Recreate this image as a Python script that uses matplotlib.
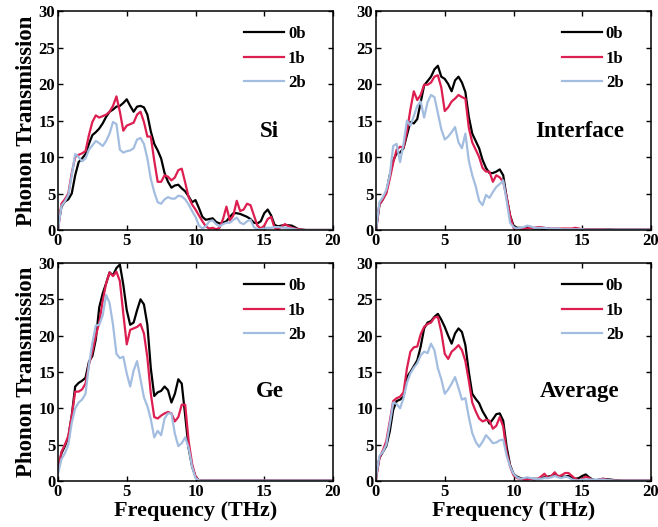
import numpy as np
import matplotlib
matplotlib.use("Agg")
import matplotlib.pyplot as plt

plt.rcParams['font.family'] = ['Liberation Serif', 'DejaVu Serif']
plt.rcParams['font.weight'] = 'bold'

# frequency grid (THz): 0..16 step 0.25, then 16.5..20 step 0.5
freq = list(np.arange(0, 16.001, 0.25)) + [16.5, 17, 17.5, 18, 18.5, 19, 19.5, 20]

series_labels = ["0b", "1b", "2b"]
panel_names = ["Si", "Interface", "Ge", "Average"]

si_0b = [0.5, 3.2, 3.9, 4.2,
         5.0, 7.5, 9.3, 9.8,
         10.4, 11.8, 13.0, 13.4,
         13.9, 14.6, 15.5, 16.2,
         16.5, 16.9, 17.0, 17.4,
         17.9, 17.0, 16.2, 16.9,
         17.0, 16.8, 15.8, 13.5,
         11.8, 10.9, 9.8, 7.8,
         6.6, 5.8, 6.1, 6.2,
         5.7, 5.3, 4.6, 3.8,
         4.1, 3.0, 1.8, 1.4,
         1.5, 1.6, 1.1, 0.9,
         1.0, 1.2, 1.8, 2.3,
         2.3, 2.2, 2.0, 1.8,
         1.5, 1.0, 0.9, 1.2,
         2.3, 2.8, 2.0, 0.7,
         0.5, 0.7, 0.6, 0.1, 0.0, 0.0, 0.0, 0.0, 0.0]
si_1b = [0.0, 3.6, 4.2, 5.0,
         7.8, 10.0, 10.3, 10.5,
         10.8, 13.0, 14.8, 15.7,
         15.4, 15.6, 15.8, 16.2,
         17.0, 18.3, 16.2, 13.6,
         14.3, 14.5, 14.7, 15.8,
         16.2, 14.8, 12.8, 12.8,
         9.5, 6.6, 6.6, 7.5,
         7.3, 6.8, 7.2, 8.2,
         8.4, 6.5, 4.5, 3.5,
         2.8, 2.0, 1.2, 0.5,
         0.2, 0.3, 0.1, 0.3,
         1.5, 3.2, 1.3, 2.0,
         4.0, 2.6, 2.8, 3.6,
         3.4, 2.0, 0.6, 0.2,
         0.6, 1.5, 1.8, 0.3,
         0.1, 0.8, 0.3, 0.1, 0.0, 0.0, 0.0, 0.0, 0.0]
si_2b = [0.0, 3.3, 3.9, 4.8,
         7.5, 10.4, 10.0, 9.4,
         9.8, 11.0, 11.6, 12.2,
         11.9, 11.5, 12.2, 13.2,
         14.8, 14.5, 11.0, 10.6,
         10.8, 10.9, 11.2, 12.4,
         12.6, 11.8, 9.8, 7.0,
         5.2, 3.8, 3.6, 4.2,
         4.5, 4.3, 4.3, 4.7,
         4.6, 4.2, 3.5, 2.6,
         1.8, 0.6, 0.2, 0.5,
         1.2, 1.3, 0.8, 0.5,
         0.8, 1.0, 1.0, 1.4,
         1.7, 1.0, 0.8, 1.2,
         1.4, 0.4, 0.1, 0.1,
         0.2, 0.3, 0.3, 0.4,
         0.4, 0.3, 0.2, 0.0, 0.0, 0.0, 0.0, 0.0, 0.0]

int_0b = [0.0, 3.5, 4.2, 5.2,
          7.5, 9.5, 10.5, 10.6,
          11.2, 13.0, 14.8, 14.6,
          15.2, 17.5, 19.8, 20.4,
          21.0, 22.0, 22.5, 21.0,
          20.7, 20.0, 19.0, 20.5,
          21.0, 20.2, 18.9, 15.5,
          13.2, 12.2, 11.2, 9.6,
          8.5, 7.8, 7.8, 8.0,
          8.3, 7.5, 4.5, 2.0,
          0.6, 0.3, 0.3, 0.2,
          0.4, 0.3, 0.2, 0.2,
          0.2, 0.1, 0.2, 0.1,
          0.1, 0.1, 0.1, 0.1,
          0.1, 0.1, 0.1, 0.1,
          0.1, 0.1, 0.1, 0.1,
          0.1, 0.1, 0.1, 0.05, 0.05, 0.05, 0.05, 0.05, 0.05]
int_1b = [0.0, 3.5, 4.2, 5.0,
          7.0, 9.2, 11.0, 11.4,
          11.3, 13.5, 16.5, 19.0,
          17.8, 18.5, 19.9, 19.9,
          20.2, 21.0, 21.2, 19.5,
          16.3, 16.8, 17.6, 18.0,
          18.5, 18.2, 18.0, 14.0,
          12.0, 11.0, 10.0, 8.5,
          8.0, 8.0, 6.6, 7.5,
          7.2, 6.6, 4.5, 2.0,
          0.3, 0.1, 0.1, 0.2,
          0.2, 0.3, 0.3, 0.4,
          0.4, 0.3, 0.2, 0.2,
          0.2, 0.2, 0.2, 0.2,
          0.2, 0.2, 0.3, 0.2,
          0.1, 0.1, 0.1, 0.1,
          0.1, 0.1, 0.05, 0.05, 0.05, 0.05, 0.05, 0.05, 0.05]
int_2b = [0.0, 3.8, 4.5, 5.5,
          7.5, 11.5, 11.8, 9.3,
          11.8, 15.0, 14.3, 15.6,
          17.0, 17.6, 15.4, 17.5,
          18.5, 18.2, 16.0, 13.8,
          12.4, 12.8, 13.4, 14.1,
          12.0, 11.2, 13.2, 9.5,
          7.5, 6.0, 4.0, 3.4,
          4.8, 4.4, 5.2, 5.9,
          6.3, 6.8, 4.0, 1.0,
          0.4, 0.2, 0.3, 0.4,
          0.6, 0.5, 0.3, 0.3,
          0.3, 0.3, 0.2, 0.2,
          0.2, 0.2, 0.1, 0.1,
          0.1, 0.1, 0.1, 0.1,
          0.1, 0.05, 0.05, 0.05,
          0.05, 0.05, 0.05, 0.05, 0.05, 0.05, 0.05, 0.05, 0.05]

ge_0b = [1.5, 3.8, 4.8, 6.0,
         9.0, 13.0, 13.5, 13.8,
         14.2, 16.4, 17.2, 19.5,
         23.9, 25.8, 27.2, 28.7,
         28.3, 29.3, 29.8, 27.0,
         23.5, 21.5, 21.8, 23.5,
         25.0, 24.3, 21.5, 15.5,
         11.7, 12.2, 12.4, 13.0,
         12.5, 10.8, 12.0, 14.0,
         13.4, 9.0, 4.5, 2.0,
         0.6, 0.1, 0.05, 0.05,
         0.05, 0.05, 0.05, 0.05,
         0.05, 0.05, 0.05, 0.05,
         0.05, 0.05, 0.05, 0.05,
         0.05, 0.05, 0.05, 0.05,
         0.05, 0.05, 0.05, 0.05,
         0.05, 0.05, 0.05, 0.05, 0.05, 0.05, 0.05, 0.05, 0.05]
ge_1b = [1.5, 4.0, 5.0, 6.2,
         9.0, 12.3, 12.3, 12.6,
         13.4, 16.0, 17.8, 20.0,
         21.8, 24.8, 27.2, 28.7,
         28.2, 28.8, 27.5, 23.0,
         18.8, 20.8, 21.0, 21.2,
         21.6, 20.3, 17.0, 12.0,
         8.8, 8.6, 9.0, 9.3,
         9.5, 9.3, 8.2, 8.8,
         10.5, 10.5, 5.5, 2.4,
         0.6, 0.1, 0.05, 0.05,
         0.05, 0.05, 0.05, 0.05,
         0.05, 0.05, 0.05, 0.05,
         0.05, 0.05, 0.05, 0.05,
         0.05, 0.05, 0.05, 0.05,
         0.05, 0.05, 0.05, 0.05,
         0.05, 0.05, 0.05, 0.05, 0.05, 0.05, 0.05, 0.05, 0.05]
ge_2b = [1.0, 3.0, 3.8, 5.0,
         8.0, 10.0, 10.8, 11.2,
         12.0, 16.0, 19.0, 21.4,
         21.5, 22.8, 25.6, 24.5,
         21.5, 17.5, 16.9, 17.1,
         14.8, 13.0, 15.2, 16.5,
         14.0, 11.5, 10.3, 8.5,
         6.0, 6.9, 6.3, 8.6,
         9.3, 9.3, 6.5, 4.8,
         5.2, 6.0, 4.6, 2.0,
         0.4, 0.1, 0.05, 0.05,
         0.05, 0.05, 0.05, 0.05,
         0.05, 0.05, 0.05, 0.05,
         0.05, 0.05, 0.05, 0.05,
         0.05, 0.05, 0.05, 0.05,
         0.05, 0.05, 0.05, 0.05,
         0.05, 0.05, 0.05, 0.05, 0.05, 0.05, 0.05, 0.05, 0.05]

avg_0b = [0.5, 3.2, 4.0, 4.8,
          6.8, 9.8, 11.0, 11.2,
          11.6, 14.3, 15.0, 15.8,
          16.6, 18.5, 21.0, 21.8,
          22.0, 22.6, 23.0, 22.2,
          21.2, 20.0, 18.9, 20.3,
          21.0, 20.5, 18.7, 15.0,
          12.0, 11.3, 10.7, 9.6,
          8.8, 7.9, 8.5, 9.2,
          9.3, 8.3, 4.7, 2.2,
          1.0, 0.6, 0.4, 0.3,
          0.4, 0.3, 0.3, 0.3,
          0.4, 0.5, 0.6, 0.7,
          0.8, 0.7, 0.6, 0.6,
          0.7, 0.5, 0.3, 0.4,
          0.7, 0.9, 0.5, 0.2,
          0.1, 0.3, 0.2, 0.1, 0.05, 0.05, 0.05, 0.05, 0.05]
avg_1b = [0.3, 3.2, 4.2, 5.5,
          8.2, 11.0, 11.4, 11.6,
          12.2, 15.5, 17.8, 18.4,
          18.5, 20.2, 21.2, 21.6,
          21.8, 22.5, 22.6, 20.5,
          17.5, 16.8, 17.8, 18.2,
          18.7, 18.0, 16.5, 13.8,
          10.8, 9.6, 8.6, 8.2,
          8.4, 8.3, 7.2, 7.6,
          8.8, 7.5, 4.0, 2.0,
          0.8, 0.4, 0.3, 0.2,
          0.2, 0.3, 0.2, 0.3,
          0.6, 1.0, 0.4, 0.7,
          1.2, 0.6, 0.8, 1.1,
          1.1, 0.7, 0.3, 0.1,
          0.3, 0.6, 0.4, 0.1,
          0.1, 0.3, 0.1, 0.05, 0.05, 0.05, 0.05, 0.05, 0.05]
avg_2b = [0.5, 3.5, 4.0, 5.0,
          7.8, 10.8, 10.6, 10.0,
          11.4, 13.5, 14.8, 15.6,
          16.2, 17.3, 17.8, 17.6,
          18.9, 18.0, 15.5, 14.0,
          12.0, 12.6, 13.4, 14.3,
          12.8, 11.2, 11.4, 8.8,
          6.6, 5.4, 4.7, 5.4,
          6.3, 5.8, 5.2, 5.3,
          5.6, 5.7, 3.5, 2.0,
          1.0, 0.5, 0.3, 0.4,
          0.5, 0.4, 0.3, 0.3,
          0.3, 0.4, 0.4, 0.5,
          0.7, 0.5, 0.4, 0.6,
          0.5, 0.2, 0.1, 0.1,
          0.2, 0.2, 0.2, 0.2,
          0.2, 0.2, 0.1, 0.05, 0.05, 0.05, 0.05, 0.05, 0.05]

panels = [
    (si_0b, si_1b, si_2b),
    (int_0b, int_1b, int_2b),
    (ge_0b, ge_1b, ge_2b),
    (avg_0b, avg_1b, avg_2b),
]

colors = ["#000000", "#dc1e50", "#a3bde0"]
x_ticks = [0, 5, 10, 15, 20]
y_ticks = [0, 5, 10, 15, 20, 25, 30]

fig = plt.figure(figsize=(6.58, 5.27), dpi=100)
W, H = 658.0, 527.0
# axes boxes in pixels: (left, top, right, bottom)
boxes = [(58, 11, 333, 230), (376, 11, 651, 230),
         (58, 263, 333, 481), (376, 263, 651, 481)]
label_pos = [(0.77, 0.45), (0.74, 0.45), (0.77, 0.41), (0.74, 0.41)]

for i, (box, data, name) in enumerate(zip(boxes, panels, panel_names)):
    l, t, r, b = box
    ax = fig.add_axes([l / W, 1 - b / H, (r - l) / W, (b - t) / H])
    for ys, c, lab in zip(data, colors, series_labels):
        ax.plot(freq, ys, color=c, lw=1.6, label=lab)
    ax.set_xlim(0, 20)
    ax.set_ylim(0, 30)
    ax.set_xticks(x_ticks)
    ax.set_yticks(y_ticks)
    ax.tick_params(direction='in', top=True, right=True, length=3.5, width=1.0,
                   labelsize=12, pad=2)
    for lbl in ax.get_xticklabels() + ax.get_yticklabels():
        lbl.set_fontweight('bold')
    for sp in ax.spines.values():
        sp.set_linewidth(1.1)
    ax.text(label_pos[i][0], label_pos[i][1], name, transform=ax.transAxes,
            ha='center', va='center', fontsize=16.5, fontweight='bold')
    leg = ax.legend(loc='upper right', bbox_to_anchor=(0.90, 0.93), frameon=False,
                    fontsize=12, handlelength=2.4, handletextpad=0.25,
                    labelspacing=0.5, borderpad=0, borderaxespad=0)
    for txt in leg.get_texts():
        txt.set_fontweight('bold')
    if i % 2 == 0:
        ax.set_ylabel("Phonon Transmission", fontsize=16.5, fontweight='bold', labelpad=1)
    if i >= 2:
        ax.set_xlabel("Frequency (THz)", fontsize=16, fontweight='bold', labelpad=1)

fig.savefig("out.png", dpi=100)
